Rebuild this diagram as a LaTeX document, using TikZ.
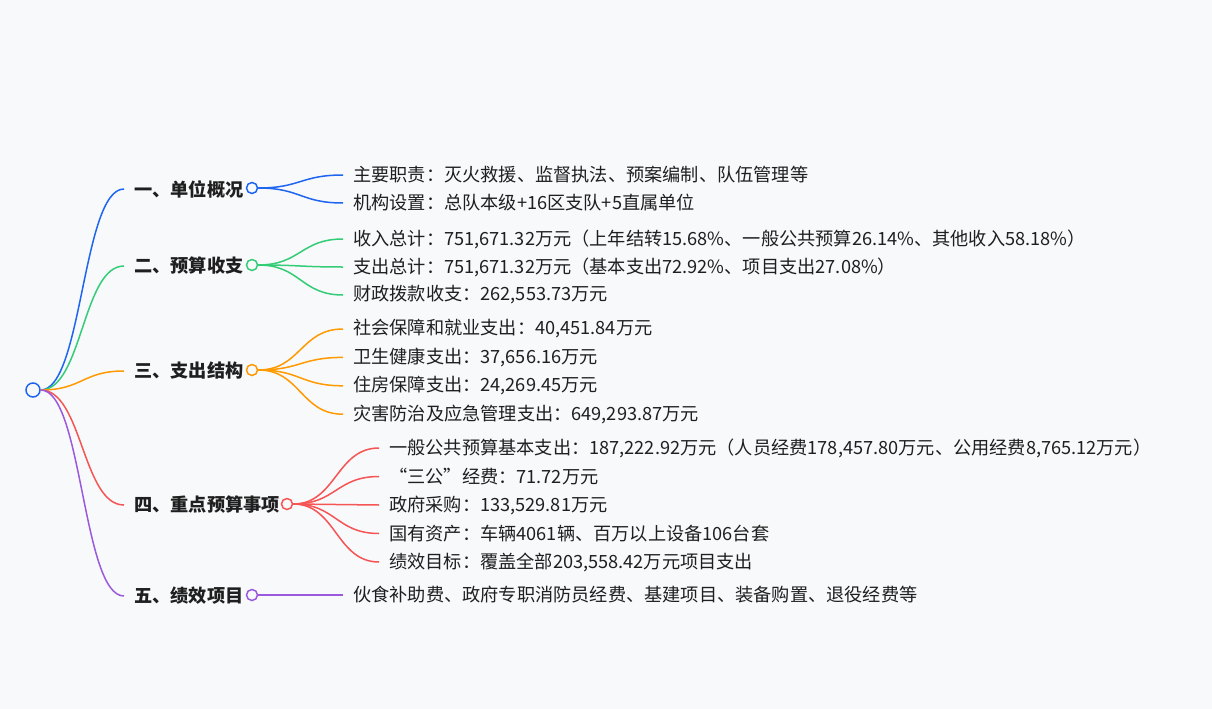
\documentclass[tikz,border=0pt]{standalone}
\usepackage{fontspec}
\setmainfont{Noto Sans CJK SC}
\usetikzlibrary{calc}
\definecolor{bgcol}{HTML}{F8F9FB}
\definecolor{txtcol}{HTML}{1F1F1F}
\definecolor{cblue}{HTML}{1E66F0}
\definecolor{cgreen}{HTML}{33CC77}
\definecolor{corange}{HTML}{FF9A00}
\definecolor{cred}{HTML}{F55555}
\definecolor{cpurple}{HTML}{9B59DD}
\newcommand{\mmfont}{\fontsize{18.2pt}{22pt}\selectfont}
\begin{document}
\begin{tikzpicture}[x=1pt,y=-1pt,
    dot/.style={circle,draw,line width=1.5pt,fill=bgcol,minimum size=11pt,inner sep=0pt},
    topic/.style={anchor=west,inner xsep=10pt,inner ysep=0pt,text=txtcol,font=\mmfont\bfseries},
    leaf/.style={anchor=west,inner xsep=10pt,inner ysep=0pt,text=txtcol,font=\mmfont},
    link/.style={line width=1.5pt,to path={let \p1=(\tikztostart),\p2=(\tikztotarget) in
        .. controls (\x1/2+\x2/2,\y1) and (\x1/2+\x2/2,\y2) .. (\tikztotarget)}}]
    \useasboundingbox[fill=bgcol] (0,0) rectangle (1212,709);
    % root
    \node[dot,draw=cblue,minimum size=14pt] (root) at (33,390) {};
    % branch nodes
    \node[topic] (b1) at (124,189) {一、单位概况};
    \node[topic] (b2) at (124,266) {二、预算收支};
    \node[topic] (b3) at (124,371) {三、支出结构};
    \node[topic] (b4) at (124,505) {四、重点预算事项};
    \node[topic] (b5) at (124,596) {五、绩效项目};
    \node[dot,draw=cblue] (c1) at (252,188) {};
    \node[dot,draw=cgreen] (c2) at (252,265) {};
    \node[dot,draw=corange] (c3) at (252,370) {};
    \node[dot,draw=cred] (c4) at (287,504) {};
    \node[dot,draw=cpurple] (c5) at (252,595) {};
    \draw[link,cblue] (root.east) to (b1.west);
    \draw[link,cgreen] (root.east) to (b2.west);
    \draw[link,corange] (root.east) to (b3.west);
    \draw[link,cred] (root.east) to (b4.west);
    \draw[link,cpurple] (root.east) to (b5.west);
    % leaves
    \foreach \t [count=\i] in {{主要职责：灭火救援、监督执法、预案编制、队伍管理等},
        {机构设置：总队本级+16区支队+5直属单位}}{
        \node[leaf] (l1-\i) at (343,{175+28*(\i-1)}) {\t};
        \draw[link,cblue] (c1.east) to (l1-\i.west);
    }
    \foreach \t [count=\i] in {{收入总计：751,671.32万元（上年结转15.68\%、一般公共预算26.14\%、其他收入58.18\%）},
        {支出总计：751,671.32万元（基本支出72.92\%、项目支出27.08\%）},
        {财政拨款收支：262,553.73万元}}{
        \node[leaf] (l2-\i) at (343,{239+28*(\i-1)}) {\t};
        \draw[link,cgreen] (c2.east) to (l2-\i.west);
    }
    \foreach \t [count=\i] in {{社会保障和就业支出：40,451.84万元},{卫生健康支出：37,656.16万元},
        {住房保障支出：24,269.45万元},{灾害防治及应急管理支出：649,293.87万元}}{
        \node[leaf] (l3-\i) at (343,{329+28.4*(\i-1)}) {\t};
        \draw[link,corange] (c3.east) to (l3-\i.west);
    }
    \foreach \t [count=\i] in {{一般公共预算基本支出：187,222.92万元（人员经费178,457.80万元、公用经费8,765.12万元）},
        {“三公”经费：71.72万元},{政府采购：133,529.81万元},
        {国有资产：车辆4061辆、百万以上设备106台套},{绩效目标：覆盖全部203,558.42万元项目支出}}{
        \node[leaf] (l4-\i) at (379,{448+28.5*(\i-1)}) {\t};
        \draw[link,cred] (c4.east) to (l4-\i.west);
    }
    \node[leaf] (l5-1) at (343,595) {伙食补助费、政府专职消防员经费、基建项目、装备购置、退役经费等};
    \draw[link,cpurple] (c5.east) to (l5-1.west);
\end{tikzpicture}
\end{document}
